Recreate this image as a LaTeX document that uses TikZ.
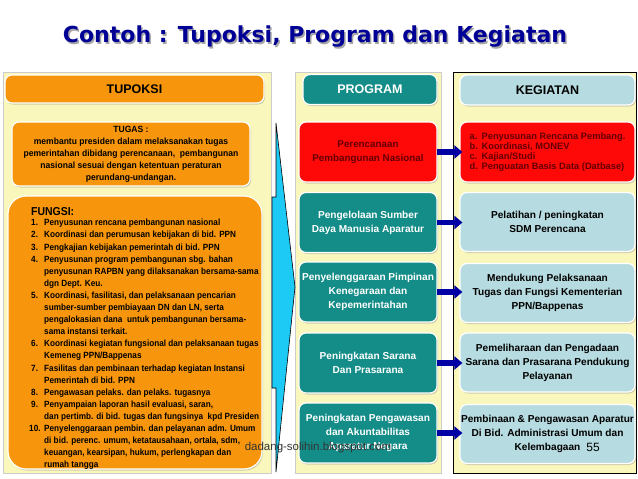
\documentclass[tikz,border=0pt]{standalone}
\usepackage{fontspec}
\setmainfont{Liberation Sans}
\newfontfamily\narrowfont{Liberation Sans}[FakeStretch=0.91]
\newfontfamily\tugasfont{Liberation Sans}[FakeStretch=0.95]
\newfontfamily\titlefont{DejaVu Sans}
\usetikzlibrary{shadows,arrows.meta}

\definecolor{panelyellow}{RGB}{250,247,188}
\definecolor{tupoksiorange}{RGB}{247,150,12}
\definecolor{programteal}{RGB}{20,140,135}
\definecolor{kegiatanblue}{RGB}{182,219,224}
\definecolor{planred}{RGB}{255,8,8}
\definecolor{plantext}{RGB}{100,0,0}
\definecolor{arrowcyan}{RGB}{28,202,245}
\definecolor{linkblue}{RGB}{0,0,165}
\definecolor{titleblue}{RGB}{0,0,150}

\begin{document}
\begin{tikzpicture}[x=1pt,y=-1pt,
  panel/.style={draw=black!20, fill=panelyellow, inner sep=0pt},
  card/.style={rounded corners=7pt, draw=white, line width=1.2pt, inner sep=1pt, align=center,
    drop shadow={shadow xshift=1pt, shadow yshift=-1.5pt, opacity=0.35}},
  orangecard/.style={card, fill=tupoksiorange},
  tealcard/.style={card, fill=programteal, text=white, font=\bfseries\fontsize{10.1}{14}\selectfont,
    minimum width=138pt, minimum height=60pt},
  bluecard/.style={card, fill=kegiatanblue, font=\bfseries\fontsize{10.1}{14}\selectfont,
    minimum width=175pt, minimum height=59pt},
  redcard/.style={card, fill=planred, text=plantext},
  headtext/.style={font=\bfseries\fontsize{12.5}{14}\selectfont},
  link/.style={-{Triangle[width=13pt,length=8pt]}, line width=5.5pt, draw=linkblue, shorten >=-3pt, shorten <=-1pt}
]
\useasboundingbox[fill=white] (0,0) rectangle (638,479);

% title
\node[text=black!35, font=\titlefont\bfseries\fontsize{22}{26}\selectfont] (titleshade) at (316.5,38.5) {Contoh : Tupoksi, Program dan Kegiatan};
\node[text=titleblue, font=\titlefont\bfseries\fontsize{22}{26}\selectfont] (title) at (315,37) {Contoh : Tupoksi, Program dan Kegiatan};

% panels
\node[panel, minimum width=268pt, minimum height=401pt] (tupoksipanel) at (137,272.5) {};
\node[panel, minimum width=146pt, minimum height=401pt] (programpanel) at (368,272.5) {};
\node[panel, draw=black, line width=0.6pt, minimum width=183pt, minimum height=401pt] (kegiatanpanel) at (544.5,272.5) {};

% big arrow
\draw[fill=arrowcyan, line width=0.6pt] (276,123) -- (276,197) -- (272,197) -- (272,388) -- (276,388) -- (276,472) -- (295,287) -- cycle;

% TUPOKSI column
\node[orangecard, headtext, minimum width=259pt, minimum height=28pt] (tupoksi) at (134.5,89) {TUPOKSI};
\node[orangecard, minimum width=238pt, minimum height=64pt,
  font=\tugasfont\bfseries\fontsize{9}{12}\selectfont] (tugas) at (131,154) {TUGAS :\\
membantu presiden dalam melaksanakan tugas\\
pemerintahan dibidang perencanaan,\ \ pembangunan\\
nasional sesuai dengan ketentuan peraturan\\
perundang-undangan.};
\node[orangecard, rounded corners=18pt, minimum width=254pt, minimum height=273pt] (fungsibox) at (135,332.5) {};
\node[anchor=north west, inner sep=0pt, align=left] (fungsi) at (31,207) {%
{\narrowfont\bfseries\fontsize{11.5}{13}\selectfont FUNGSI:}\\[1pt]
{\narrowfont\bfseries\fontsize{9}{12.1}\selectfont
\begin{tabular}{@{}p{13pt}@{}l@{}}
1. & Penyusunan rencana pembangunan nasional\\
2. & Koordinasi dan perumusan kebijakan di bid. PPN\\
3. & Pengkajian kebijakan pemerintah di bid. PPN\\
4. & Penyusunan program pembangunan sbg. bahan\\
   & penyusunan RAPBN yang dilaksanakan bersama-sama\\
   & dgn Dept. Keu.\\
5. & Koordinasi, fasilitasi, dan pelaksanaan pencarian\\
   & sumber-sumber pembiayaan DN dan LN, serta\\
   & pengalokasian dana\ \ untuk pembangunan bersama-\\
   & sama instansi terkait.\\
6. & Koordinasi kegiatan fungsional dan pelaksanaan tugas\\
   & Kemeneg PPN/Bappenas\\
7. & Fasilitas dan pembinaan terhadap kegiatan Instansi\\
   & Pemerintah di bid. PPN\\
8. & Pengawasan pelaks. dan pelaks. tugasnya\\
9. & Penyampaian laporan hasil evaluasi, saran,\\
   & dan pertimb. di bid. tugas dan fungsinya\ \ kpd Presiden\\
\hspace{-2pt}10. & Penyelenggaraan pembin. dan pelayanan adm. Umum\\
   & di bid. perenc. umum, ketatausahaan, ortala, sdm,\\
   & keuangan, kearsipan, hukum, perlengkapan dan\\
   & rumah tangga
\end{tabular}}};

% PROGRAM column
\node[card, fill=programteal, text=white, headtext, minimum width=134pt, minimum height=30pt] (program) at (370,89.5) {PROGRAM};
\node[redcard, minimum width=138pt, minimum height=60pt,
  font=\bfseries\fontsize{9.8}{14}\selectfont] (p1) at (368,152) {Perencanaan\\Pembangunan Nasional};
\node[tealcard] (p2) at (368,222.5) {Pengelolaan Sumber\\Daya Manusia Aparatur};
\node[tealcard] (p3) at (368,292) {Penyelenggaraan Pimpinan\\Kenegaraan dan\\Kepemerintahan};
\node[tealcard] (p4) at (368,363) {Peningkatan Sarana\\Dan Prasarana};
\node[tealcard] (p5) at (368,433) {Peningkatan Pengawasan\\dan Akuntabilitas\\Aparatur Negara};

% KEGIATAN column
\node[card, fill=kegiatanblue, headtext, minimum width=175pt, minimum height=30pt] (kegiatan) at (547.5,90) {KEGIATAN};
\node[redcard, minimum width=175pt, minimum height=60pt, align=left,
  font=\bfseries\fontsize{9.3}{10}\selectfont] (k1) at (547.5,152) {%
\makebox[12pt][l]{a.}Penyusunan Rencana Pembang.\\
\makebox[12pt][l]{b.}Koordinasi, MONEV\\
\makebox[12pt][l]{c.}Kajian/Studi\\
\makebox[12pt][l]{d.}Penguatan Basis Data (Datbase)};
\node[bluecard] (k2) at (547.5,222) {Pelatihan / peningkatan\\SDM Perencana};
\node[bluecard] (k3) at (547.5,293) {Mendukung Pelaksanaan\\Tugas dan Fungsi Kementerian\\PPN/Bappenas};
\node[bluecard] (k4) at (547.5,362.5) {Pemeliharaan dan Pengadaan\\Sarana dan Prasarana Pendukung\\Pelayanan};
\node[bluecard] (k5) at (547.5,434) {Pembinaan \& Pengawasan Aparatur\\Di Bid. Administrasi Umum dan\\Kelembagaan};

% links
\foreach \i in {1,...,5}
  \draw[link] (p\i.east) -- (k\i.west |- p\i.east);

% footer texts
\node[text=black!80, font=\fontsize{11.5}{13}\selectfont] (blog) at (318,448) {dadang-solihin.blogspot.com};
\node[font=\fontsize{12}{14}\selectfont] (pagenum) at (593,447) {55};
\end{tikzpicture}
\end{document}
